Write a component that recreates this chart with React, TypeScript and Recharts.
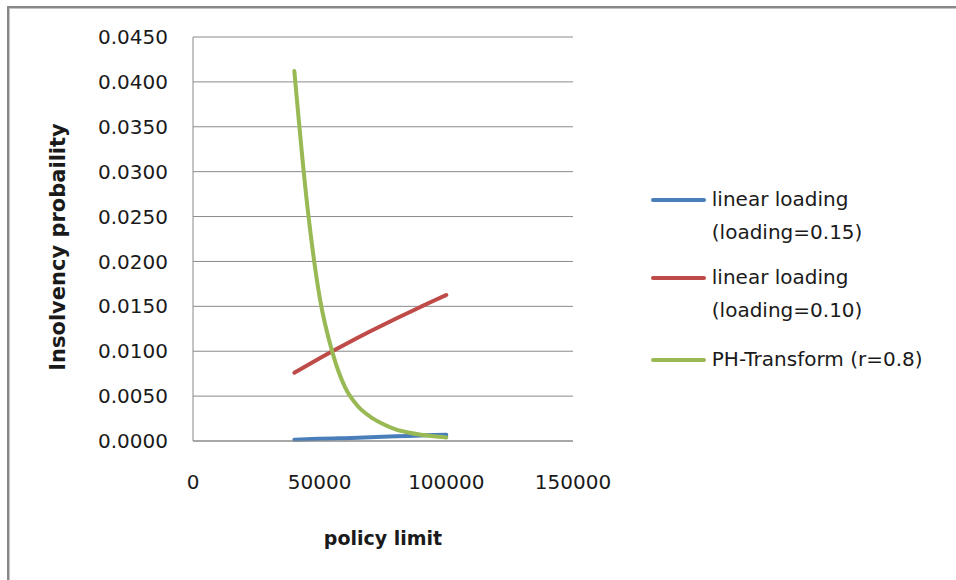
import { CartesianGrid, Label, Legend, Line, LineChart, XAxis, YAxis } from "recharts";

const policyLimits = [40000, 45000, 50000, 55000, 60000, 65000, 70000, 75000, 80000, 85000, 90000, 95000, 100000];
const linear015 = [0.00015, 0.0002, 0.00024, 0.00028, 0.00032, 0.00037, 0.00042, 0.00047, 0.00052, 0.00057, 0.00062, 0.00067, 0.0007];
const linear010 = [0.0076, 0.00842, 0.00922, 0.01, 0.01076, 0.0115, 0.01222, 0.01292, 0.01361, 0.01429, 0.01496, 0.01562, 0.01626];
const phTransform = [0.0412, 0.0265, 0.016, 0.0099, 0.006, 0.0039, 0.0027, 0.0019, 0.0013, 0.00095, 0.0007, 0.00052, 0.0004];

const seriesNames = ["linear loading (loading=0.15)", "linear loading (loading=0.10)", "PH-Transform (r=0.8)"];
const seriesColors = ["#4a7ebb", "#be4b48", "#98b954"];

const xTicks = [0, 50000, 100000, 150000];
const yTicks = [0, 0.005, 0.01, 0.015, 0.02, 0.025, 0.03, 0.035, 0.04, 0.045];

const font = "'DejaVu Sans', sans-serif";
const textColor = "#1a1a1a";

const rows = policyLimits.map((limit, i) => ({
  limit,
  l15: linear015[i],
  l10: linear010[i],
  ph: phTransform[i],
}));

function LegendBox(props: any) {
  // keep the same order as the series, whatever order recharts hands us
  const items = [...(props.payload || [])].sort(
    (a: any, b: any) => seriesNames.indexOf(a.value) - seriesNames.indexOf(b.value)
  );
  return (
    <div style={{ fontFamily: font, fontSize: 20, color: textColor }}>
      {items.map((item: any, i: number) => (
        <div key={i} style={{ display: "flex", alignItems: "flex-start", marginBottom: i === 0 ? 12 : 16 }}>
          <div style={{ width: 55, height: 4, borderRadius: 2, background: item.color, marginTop: 15, marginRight: 6 }} />
          <div style={{ width: 240, lineHeight: "33px" }}>{item.value}</div>
        </div>
      ))}
    </div>
  );
}

export default function App() {
  const tickStyle = { fontSize: 20, fontFamily: font, fill: textColor };
  return (
    <div style={{ position: "absolute", left: 0, top: 0, width: 956, height: 580, overflow: "hidden", background: "#fff" }}>
      <div
        style={{
          position: "absolute",
          left: 7,
          top: 6,
          width: 1000,
          height: 700,
          borderTop: "2px solid #888",
          borderLeft: "2px solid #888",
          boxShadow: "inset 1px 1px 0 #c4c4c4",
        }}
      />
      <div style={{ position: "absolute", left: 0, top: 0 }}>
        <LineChart width={956} height={580} data={rows} margin={{ top: 37, right: 83, bottom: 28, left: 0 }}>
          <CartesianGrid vertical={false} stroke="#8a8a8a" />
          <XAxis
            type="number"
            dataKey="limit"
            domain={[0, 150000]}
            ticks={xTicks}
            tickLine={false}
            axisLine={{ stroke: "#8a8a8a" }}
            height={111}
            tickMargin={28}
            tick={tickStyle}
          >
            <Label
              content={({ viewBox }: any) => (
                <text
                  x={viewBox.x + viewBox.width / 2}
                  y={viewBox.y + 103.5}
                  textAnchor="middle"
                  fontFamily={font}
                  fontWeight="bold"
                  fontSize={19}
                  fill={textColor}
                >
                  policy limit
                </text>
              )}
            />
          </XAxis>
          <YAxis
            type="number"
            domain={[0, 0.045]}
            ticks={yTicks}
            tickFormatter={(v: number) => v.toFixed(4)}
            tickLine={false}
            axisLine={{ stroke: "#8a8a8a" }}
            width={193}
            tickMargin={19}
            tick={tickStyle}
          >
            <Label
              content={({ viewBox }: any) => {
                const x = viewBox.x + 65;
                const y = viewBox.y + viewBox.height / 2 + 8;
                return (
                  <text
                    x={x}
                    y={y}
                    transform={`rotate(-90, ${x}, ${y})`}
                    textAnchor="middle"
                    fontFamily={font}
                    fontWeight="bold"
                    fontSize={21}
                    fill={textColor}
                  >
                    Insolvency probaility
                  </text>
                );
              }}
            />
          </YAxis>
          <Legend
            layout="vertical"
            align="right"
            verticalAlign="top"
            content={<LegendBox />}
            wrapperStyle={{ position: "absolute", left: 651, top: 183, width: 300 }}
          />
          <Line dataKey="l15" name={seriesNames[0]} stroke={seriesColors[0]} strokeWidth={4} type="monotone" dot={false} strokeLinecap="round" isAnimationActive={false} />
          <Line dataKey="l10" name={seriesNames[1]} stroke={seriesColors[1]} strokeWidth={4} type="monotone" dot={false} strokeLinecap="round" isAnimationActive={false} />
          <Line dataKey="ph" name={seriesNames[2]} stroke={seriesColors[2]} strokeWidth={4} type="monotone" dot={false} strokeLinecap="round" isAnimationActive={false} />
        </LineChart>
      </div>
    </div>
  );
}
